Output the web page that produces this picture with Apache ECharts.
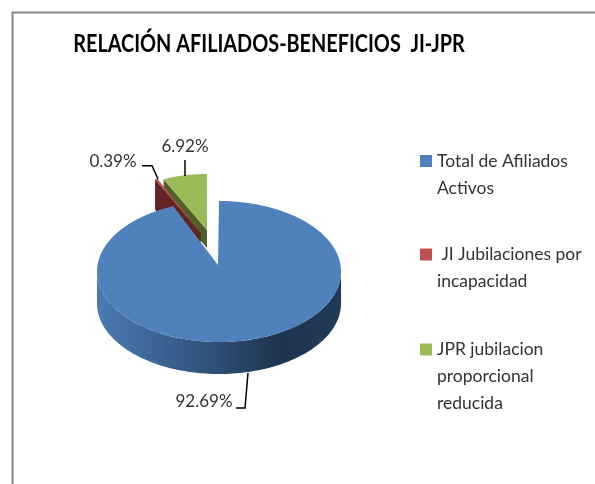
<!DOCTYPE html>
<html>
<head>
<meta charset="utf-8">
<style>html,body{margin:0;padding:0;background:#fff}#c{width:595px;height:484px}</style>
<script src="https://cdn.jsdelivr.net/npm/echarts@6/dist/echarts.min.js"></script>
</head>
<body>
<div id="c"></div>
<script>
var titleText = 'RELACIÓN AFILIADOS-BENEFICIOS  JI-JPR';
var categories = ['Total de Afiliados\nActivos', ' JI Jubilaciones por\nincapacidad', 'JPR jubilacion\nproporcional\nreducida'];
var values = [92.69, 0.39, 6.92];
var colors = ['#4F81BD', '#C0504D', '#9BBB59'];
var FONT = 'Lato';

var total = values.reduce(function (a, b) { return a + b; }, 0);
var D = Math.PI / 180;
function span(i) {
  var s = 0;
  for (var k = 0; k < i; k++) s += values[k];
  return [s / total * 360, (s + values[i]) / total * 360];
}
// Projection of the tilted 3D pie: the large slice's far edge is foreshortened.
function warp(g, t) { return g.warp ? t - g.warp * Math.sin(2 * t * D) : t; }
function pt(g, t, dy) {
  var a = warp(g, t) * D;
  return [g.cx + g.rx * Math.sin(a), g.cy - g.ry * Math.cos(a) + (dy || 0)];
}
function arc(g, a, b, dy) {
  var out = [], n = Math.max(2, Math.ceil(Math.abs(b - a) / 2));
  for (var i = 0; i <= n; i++) out.push(pt(g, a + (b - a) * i / n, dy));
  return out;
}
function poly(points, fill) {
  return { type: 'polygon', shape: { points: points }, style: { fill: fill, stroke: null } };
}
function line(points) {
  return { type: 'polyline', shape: { points: points }, style: { stroke: '#000', lineWidth: 1.5, fill: null } };
}
function label(v, x, y) {
  return { type: 'text', x: x, y: y, style: { text: v.toFixed(2) + '%', font: '17px ' + FONT, fill: '#333', align: 'center', verticalAlign: 'middle' } };
}

var blueGeo = { cx: 219, cy: 271.5, rx: 122, ry: 70.5, ax: 218, ay: 265, depth: 32, warp: 5.4 };
var redGeo = { cx: 200.7, cy: 233, rx: 103, ry: 60, ax: 200.7, ay: 233, depth: 30 };
var greenGeo = { cx: 207, cy: 230, rx: 103, ry: 56, ax: 207, ay: 230, depth: 18 };

function renderBlue(params, api) {
  var g = blueGeo, s = span(0);
  s[1] = s[0] + api.value(0) / total * 360;
  var wallGrad = new echarts.graphic.LinearGradient(0, 0, 1, 0, [
    { offset: 0, color: '#4A7BB5' },
    { offset: 0.45, color: '#30527B' },
    { offset: 0.75, color: '#1E3450' },
    { offset: 1, color: '#223A5A' }
  ]);
  var front = arc(g, 90, 270, 0);
  var wall = front.concat(arc(g, 270, 90, g.depth));
  var face = [[g.ax, g.ay]].concat(arc(g, s[0], s[1], 0));
  return { type: 'group', children: [
    poly(wall, wallGrad),
    poly(face, colors[0]),
    line([[248, 373], [245, 408], [236, 408]]),
    label(api.value(0), 204, 402)
  ]};
}
function renderRed(params, api) {
  var g = redGeo, s = span(1);
  var e = arc(g, s[0], s[1], 0);
  var a = [g.ax, g.ay];
  var wall = [e[0], a, [a[0], a[1] + g.depth], [e[0][0], e[0][1] + g.depth]];
  return { type: 'group', children: [
    poly(wall, '#632523'),
    poly([a].concat(e), colors[1]),
    line([[158, 179], [152, 165.7], [142, 165.7]]),
    label(api.value(0), 113, 162)
  ]};
}
function renderGreen(params, api) {
  var g = greenGeo, s = span(2);
  var e = arc(g, s[0], s[1], 0);
  var a = [g.ax, g.ay];
  var wall = [e[0], a, [a[0], a[1] + g.depth], [e[0][0], e[0][1] + g.depth]];
  return { type: 'group', children: [
    poly(wall, '#4F6028'),
    poly([a].concat(e), colors[2]),
    line([[185, 160], [185, 176]]),
    label(api.value(0), 185, 147)
  ]};
}

function legendFor(i, top, blanks) {
  return {
    left: 420, top: top, orient: 'vertical', data: [categories[i]],
    itemWidth: 12, itemHeight: 12, itemGap: 0, icon: 'rect', selectedMode: false,
    padding: 0,
    formatter: function (n) { return blanks + n; },
    textStyle: { fontFamily: FONT, fontSize: 17.5, color: '#333', lineHeight: 27 }
  };
}
function seriesFor(i, render) {
  return {
    type: 'custom', name: categories[i], coordinateSystem: 'none',
    renderItem: render, data: [[values[i]]], silent: true, animation: false,
    itemStyle: { color: colors[i] }
  };
}

var chart = echarts.init(document.getElementById('c'), null, { renderer: 'canvas' });
chart.setOption({
  backgroundColor: '#fff',
  animation: false,
  legend: [legendFor(0, 120.5, '\n'), legendFor(1, 214, '\n'), legendFor(2, 282, '\n\n')],
  graphic: [
    { type: 'polyline', silent: true, shape: { points: [[12.5, 484], [12.5, 12.5], [595, 12.5]] },
      style: { stroke: '#868686', lineWidth: 2, fill: null } },
    { type: 'text', silent: true, x: 269, y: 44, scaleX: 0.827,
      style: { text: titleText, font: 'bold 24px ' + FONT, fill: '#000', align: 'center', verticalAlign: 'middle' } }
  ],
  series: [seriesFor(2, renderGreen), seriesFor(1, renderRed), seriesFor(0, renderBlue)]
});
</script>
</body>
</html>
